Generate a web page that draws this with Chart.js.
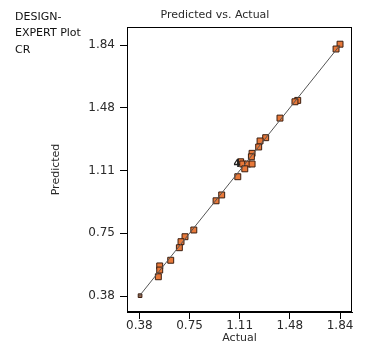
<!DOCTYPE html>
<html>
<head>
<meta charset="utf-8">
<script src="https://cdn.jsdelivr.net/npm/chart.js@4/dist/chart.umd.min.js"></script>
<style>
  html, body { margin: 0; padding: 0; background: #fff; }
  #wrap { width: 381px; height: 351px; }
</style>
</head>
<body>
<div id="wrap"><canvas id="chart" width="381" height="351"></canvas></div>
<script>
// valores
const actual =    [1.84, 1.811, 1.532, 1.512, 1.403, 1.299, 1.258, 1.248, 1.200, 1.195, 1.117, 1.132, 1.168, 1.200, 1.147, 1.096, 0.979, 0.938, 0.776, 0.712, 0.683, 0.671, 0.608, 0.528, 0.528, 0.518, 0.385];
const predicted = [1.845, 1.817, 1.518, 1.510, 1.415, 1.301, 1.282, 1.247, 1.210, 1.190, 1.161, 1.148, 1.148, 1.148, 1.120, 1.074, 0.968, 0.934, 0.764, 0.725, 0.696, 0.661, 0.588, 0.555, 0.531, 0.492, 0.382];
const tickValues = [0.38, 0.745, 1.11, 1.475, 1.84];
const tickLabels = ['0.38', '0.75', '1.11', '1.48', '1.84'];
const lineX = [0.38, 1.84];
const lineY = [0.38, 1.84];

const fonte = 'Century Gothic, "DejaVu Sans", sans-serif';
const corTexto = '#2a2a2a';

const pontos = actual.map((a, i) => ({ x: a, y: predicted[i] }));
const raios = actual.map((a, i) => i === actual.length - 1 ? 2.6 : 4.2);

// caixa em volta do grafico + textos soltos (titulo fica deslocado como no original)
const extras = {
  id: 'extras',
  afterDraw(chart) {
    const c = chart.ctx;
    const a = chart.chartArea;
    c.save();
    c.strokeStyle = '#000';
    c.lineWidth = 1;
    c.strokeRect(a.left + 0.5, a.top + 0.5, a.right - a.left - 1, a.bottom - a.top - 1);
    c.textBaseline = 'middle';
    c.fillStyle = corTexto;
    c.font = '11px ' + fonte;
    c.textAlign = 'center';
    c.fillText('Predicted vs. Actual', 215, 15);
    c.textAlign = 'left';
    c.fillStyle = '#111';
    c.fillText('DESIGN-', 15, 17);
    c.fillText('EXPERT Plot', 15, 33);
    c.fillText('CR', 15, 50);
    // rotulo "4" de pontos repetidos
    const x = chart.scales.x.getPixelForValue(1.09);
    const y = chart.scales.y.getPixelForValue(1.148);
    c.font = 'bold 10px ' + fonte;
    c.fillStyle = '#222';
    c.textAlign = 'center';
    c.fillText('4', x, y);
    c.restore();
  }
};

new Chart(document.getElementById('chart'), {
  data: {
    datasets: [{
      type: 'line',
      data: lineX.map((v, i) => ({ x: v, y: lineY[i] })),
      borderColor: '#555',
      borderWidth: 1,
      pointRadius: 0,
      fill: false
    }, {
      type: 'scatter',
      data: pontos,
      pointStyle: 'rect',
      pointRadius: raios,
      backgroundColor: actual.map((a, i) => i === actual.length - 1 ? '#9a6a50' : '#e8793a'),
      borderColor: '#3a1e10',
      borderWidth: 1
    }]
  },
  options: {
    responsive: false,
    animation: false,
    layout: { padding: { left: 50, right: 29, top: 27, bottom: 0 } },
    plugins: {
      legend: { display: false },
      tooltip: { enabled: false },
      title: { display: false }
    },
    scales: {
      x: {
        type: 'linear',
        min: 0.29,
        max: 1.927,
        afterFit: s => { s.height = 39; },
        afterBuildTicks: s => { s.ticks = tickValues.map(v => ({ value: v })); },
        ticks: {
          color: corTexto,
          font: { family: fonte, size: 12 },
          padding: 0,
          maxRotation: 0,
          callback: (v, i) => tickLabels[i]
        },
        grid: { drawOnChartArea: false, drawTicks: true, tickLength: 7, color: '#000' },
        border: { display: true, color: '#000' },
        title: {
          display: true,
          text: 'Actual',
          color: corTexto,
          font: { family: fonte, size: 11 },
          padding: { top: 0, bottom: 6 }
        }
      },
      y: {
        type: 'linear',
        min: 0.287,
        max: 1.945,
        afterFit: s => { s.width = 77; },
        afterBuildTicks: s => { s.ticks = tickValues.map(v => ({ value: v })); },
        ticks: {
          color: corTexto,
          font: { family: fonte, size: 12 },
          padding: 5,
          callback: (v, i) => tickLabels[i]
        },
        grid: { drawOnChartArea: false, drawTicks: true, tickLength: 7, color: '#000' },
        border: { display: true, color: '#000' },
        title: {
          display: true,
          text: 'Predicted',
          color: corTexto,
          font: { family: fonte, size: 11 },
          padding: { top: 0, bottom: 0 }
        }
      }
    }
  },
  plugins: [extras]
});
</script>
</body>
</html>
